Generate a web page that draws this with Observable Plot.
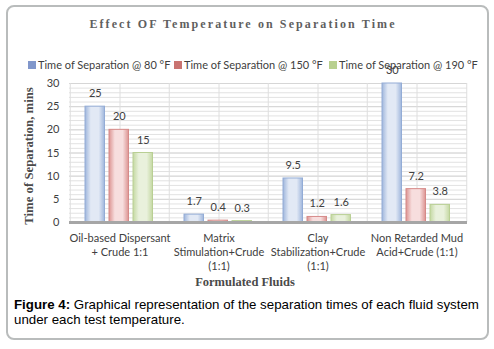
<!DOCTYPE html>
<html>
<head>
<meta charset="utf-8">
<script src="https://cdn.jsdelivr.net/npm/d3@7"></script>
<script src="https://cdn.jsdelivr.net/npm/@observablehq/plot@0.6"></script>
<style>
  html, body { margin: 0; padding: 0; background: #fff; }
  #wrap { position: relative; width: 494px; height: 349px; overflow: hidden; background: #fff; }
  #frame { position: absolute; left: 6px; top: 5px; width: 479px; height: 331px; border: 2px solid #b9bcbc; border-radius: 8px; }
  #title { position: absolute; left: 0; width: 486px; top: 17px; text-align: center; font-family: "Liberation Serif", serif; font-weight: bold; font-size: 12px; letter-spacing: 2.1px; color: #5f5f5f; }
  #legend { position: absolute; top: 58px; left: 28px; font-family: Lato, sans-serif; font-size: 11px; color: #404040; white-space: nowrap; }
  .li { position: absolute; top: 0; display: flex; align-items: center; }
  .sw { width: 8px; height: 8px; margin-right: 2px; }
  #ytitle { position: absolute; left: 29px; top: 156px; transform: translate(-50%, -50%) rotate(-90deg); font-family: "Liberation Serif", serif; font-weight: bold; font-size: 12.8px; color: #4a4a4a; white-space: nowrap; }
  #xtitle { position: absolute; left: 0; width: 490px; top: 275px; text-align: center; font-family: "Liberation Serif", serif; font-weight: bold; font-size: 12.5px; color: #4a4a4a; }
  .cap { position: absolute; left: 14px; font-family: "Liberation Sans", Arial, sans-serif; font-size: 13.3px; line-height: 15px; color: #000; white-space: nowrap; }
  #chart { position: absolute; left: 0; top: 0; }
</style>
</head>
<body>
<div id="wrap">
  <div id="frame"></div>
  <div id="chart"></div>
  <div id="title">Effect OF Temperature on Separation Time</div>
  <div id="legend"></div>
  <div id="ytitle">Time of Separation, mins</div>
  <div id="xtitle">Formulated Fluids</div>
  <div class="cap" style="top:297px"><b>Figure 4:</b> Graphical representation of the separation times of each fluid system</div>
  <div class="cap" style="top:312px">under each test temperature.</div>
</div>
<script>
const categories = [
  "Oil-based Dispersant\n+ Crude 1:1",
  "Matrix\nStimulation+Crude\n(1:1)",
  "Clay\nStabilization+Crude\n(1:1)",
  "Non Retarded Mud\nAcid+Crude (1:1)"
];
const seriesNames = ["Time of Separation @ 80 °F", "Time of Separation @ 150 °F", "Time of Separation @ 190 °F"];
const t80 = [25, 1.7, 9.5, 30];
const t150 = [20, 0.4, 1.2, 7.2];
const t190 = [15, 0.3, 1.6, 3.8];
const yTicks = [0, 5, 10, 15, 20, 25, 30];

const seriesValues = [t80, t150, t190];
const swatch = ["#8197cb", "#c97472", "#b9d08f"];
const edge = ["#9fb6dc", "#dc9492", "#c4d8a2"];
const center = ["#e2e9f5", "#f7dede", "#e9f1dc"];
const border = ["#93acd6", "#d68a88", "#b9cf94"];

const rows = [];
seriesValues.forEach((vals, si) => vals.forEach((v, ci) => rows.push({series: si, category: categories[ci], value: v})));

const W = 494, H = 290, mL = 69, mR = 27, mT = 83, mB = 68;
const bw = (W - mL - mR) / categories.length;
const barW = 20, step = 24;
const groupLeft = (bw - (barW * 3 + (step - barW) * 2)) / 2 - 0.75;

const marks = [
  Plot.ruleY(d3.range(0, 31), {stroke: "#e2e2e2", strokeWidth: 1}),
  Plot.ruleY(yTicks, {stroke: "#d6d6d6", strokeWidth: 1}),
  Plot.gridX({stroke: "#dedede", strokeOpacity: 1}),
  Plot.ruleX(categories, {x: d => d, dx: -bw / 2, stroke: "#dedede"}),
  Plot.ruleX([categories[categories.length - 1]], {x: d => d, dx: bw / 2, stroke: "#dedede"})
];
seriesValues.forEach((vals, si) => {
  const data = rows.filter(r => r.series === si);
  marks.push(Plot.barY(data, {
    x: "category", y: "value",
    fill: `url(#grad${si})`, stroke: border[si], strokeWidth: 1,
    insetLeft: groupLeft + step * si, insetRight: bw - groupLeft - step * si - barW
  }));
  marks.push(Plot.text(data, {
    x: "category", y: "value", text: d => String(d.value),
    dx: groupLeft + step * si + barW / 2 - bw / 2, dy: -13,
    fill: "#404040", fontSize: 11
  }));
});
marks.push(Plot.ruleY([0], {stroke: "#a6a6a6", strokeWidth: 3}));
marks.push(Plot.axisY({ticks: yTicks, tickSize: 0, tickPadding: 10, fontSize: 11, label: null}));
marks.push(Plot.axisX({tickSize: 0, tickPadding: 10, fontSize: 11, lineHeight: 1.27, label: null}));

const chart = Plot.plot({
  width: W, height: H,
  marginLeft: mL, marginRight: mR, marginTop: mT, marginBottom: mB,
  style: {fontFamily: "Lato, sans-serif", fontSize: "11px", color: "#404040", background: "transparent", overflow: "visible"},
  x: {type: "band", domain: categories, padding: 0, axis: null},
  y: {domain: [0, 30], axis: null},
  marks
});

const defs = document.createElementNS("http://www.w3.org/2000/svg", "defs");
seriesValues.forEach((_, si) => {
  const g = document.createElementNS("http://www.w3.org/2000/svg", "linearGradient");
  g.setAttribute("id", `grad${si}`);
  g.setAttribute("x1", "0"); g.setAttribute("x2", "1"); g.setAttribute("y1", "0"); g.setAttribute("y2", "0");
  [[0, edge[si]], [0.3, center[si]], [0.7, center[si]], [1, edge[si]]].forEach(([o, c]) => {
    const s = document.createElementNS("http://www.w3.org/2000/svg", "stop");
    s.setAttribute("offset", o); s.setAttribute("stop-color", c);
    g.appendChild(s);
  });
  defs.appendChild(g);
});
chart.insertBefore(defs, chart.firstChild);
document.getElementById("chart").appendChild(chart);

const legend = document.getElementById("legend");
const lx = [0, 146, 301];
seriesNames.forEach((name, si) => {
  const item = document.createElement("div");
  item.className = "li";
  item.style.left = lx[si] + "px";
  item.innerHTML = `<span class="sw" style="background:${swatch[si]}"></span><span>${name}</span>`;
  legend.appendChild(item);
});
</script>
</body>
</html>
